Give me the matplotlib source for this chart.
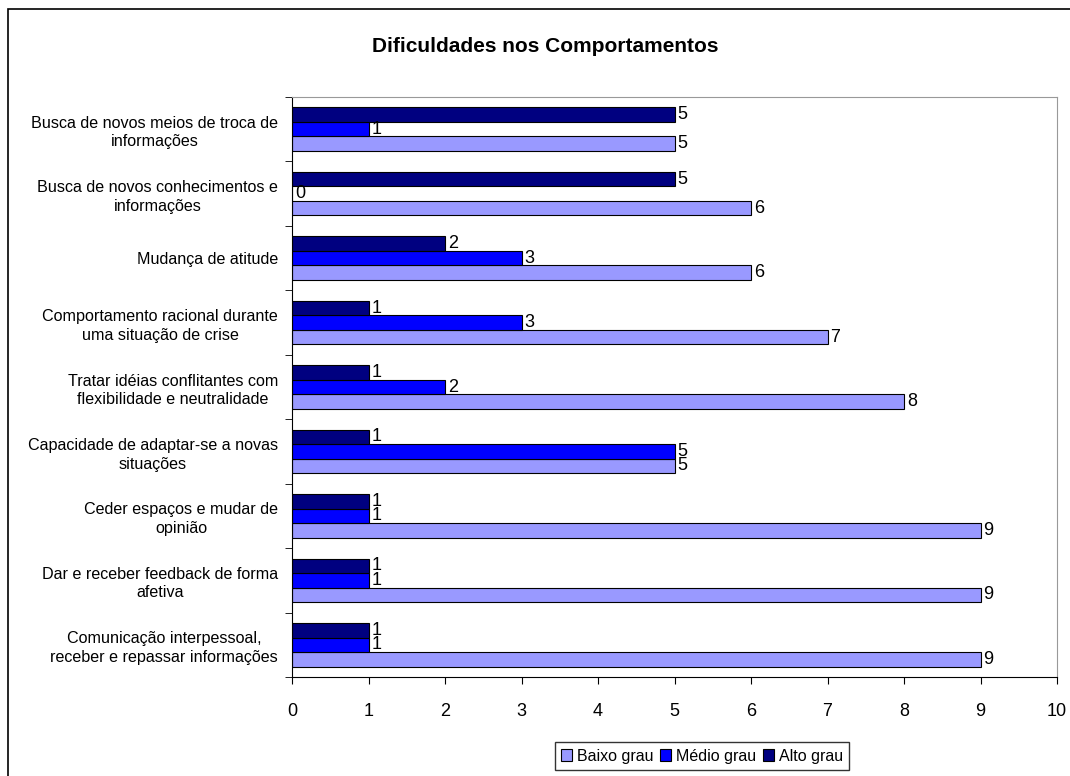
import matplotlib
matplotlib.use("Agg")
import matplotlib.pyplot as plt
from matplotlib.patches import Rectangle
from matplotlib.ticker import FixedLocator
import numpy as np

plt.rcParams['font.family'] = ['Liberation Sans', 'DejaVu Sans']

categories = [
    "Busca de novos meios de troca de\ninformações",
    "Busca de novos conhecimentos e\ninformações",
    "Mudança de atitude",
    "Comportamento racional durante\numa situação de crise",
    "Tratar idéias conflitantes com\nflexibilidade e neutralidade",
    "Capacidade de adaptar-se a novas\nsituações",
    "Ceder espaços e mudar de\nopinião",
    "Dar e receber feedback de forma\nafetiva",
    "Comunicação interpessoal,\nreceber e repassar informações",
]
baixo = [5, 6, 6, 7, 8, 5, 9, 9, 9]
medio = [1, 0, 3, 3, 2, 5, 1, 1, 1]
alto = [5, 5, 2, 1, 1, 1, 1, 1, 1]
series_names = ["Baixo grau", "Médio grau", "Alto grau"]
colors = ["#9999FF", "#0000FF", "#000080"]
title = "Dificuldades nos Comportamentos"

fig = plt.figure(figsize=(10.7, 7.76), dpi=100)
ax = fig.add_axes([292/1070, 1-677/776, (1057-292)/1070, (677-97)/776])

# outer chart frame
fig.patches.append(Rectangle((8/1070, -0.05), 1.2, 1-9/776+0.05, transform=fig.transFigure,
                             fill=False, edgecolor='black', linewidth=1.2))

y = np.arange(len(categories))
h = 0.225
data = [(baixo, h), (medio, 0.0), (alto, -h)]
for (vals, off), name, col in zip(data, series_names, colors):
    bars = ax.barh(y + off, vals, height=h, color=col, edgecolor='black', linewidth=0.8, label=name)
    ax.bar_label(bars, labels=[str(v) for v in vals], padding=2, fontsize=13)

ax.set_xlim(0, 10)
ax.set_ylim(len(categories) - 0.5, -0.5)
ax.set_xticks(range(0, 11))
ax.tick_params(axis='x', labelsize=13, length=5, direction='out', pad=14)
ax.set_yticks(y)
ax.set_yticklabels(categories, fontsize=11.6, multialignment='center', linespacing=1.3)
ax.tick_params(axis='y', length=0, pad=10)
ax.yaxis.set_minor_locator(FixedLocator(np.arange(-0.5, len(categories), 1.0)))
ax.tick_params(axis='y', which='minor', length=5, direction='out')

for s in ['top', 'right']:
    ax.spines[s].set_color('#999999')
for s in ['left', 'bottom']:
    ax.spines[s].set_color('black')

fig.text(545/1070, 1-46/776, title, ha='center', va='center', fontsize=15, fontweight='bold')

handles, labels = ax.get_legend_handles_labels()
leg = fig.legend(handles, labels, loc='center', bbox_to_anchor=(702/1070, 1-756/776), ncol=3,
                 fontsize=11.5, frameon=True, fancybox=False, edgecolor='black',
                 handlelength=0.7, handleheight=0.7, handletextpad=0.3, columnspacing=0.4,
                 borderpad=0.4, borderaxespad=0.2)
leg.get_frame().set_linewidth(1.0)

fig.savefig("out.png", dpi=100)
